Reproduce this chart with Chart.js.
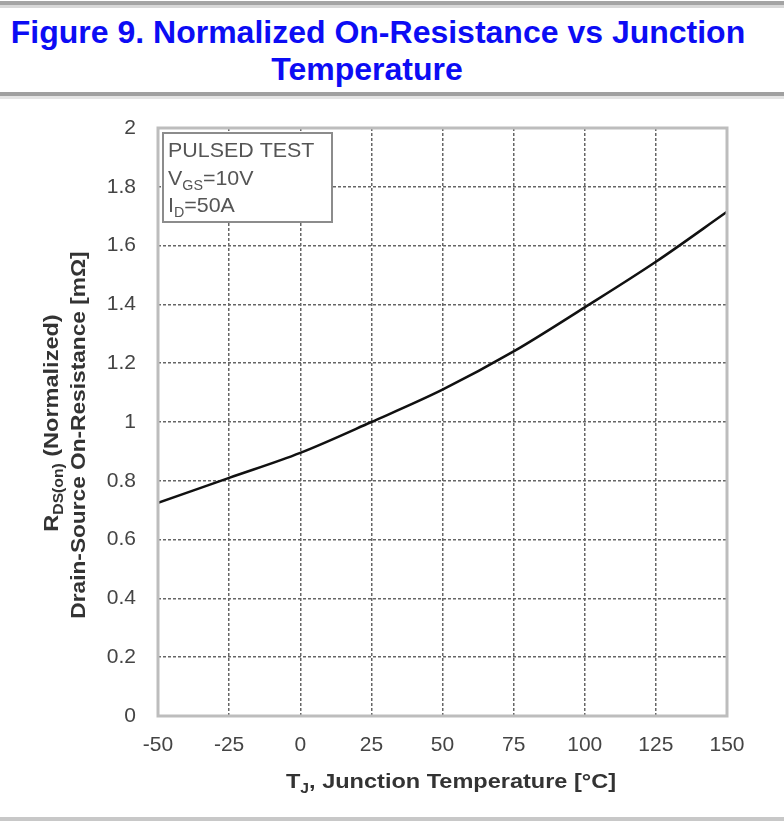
<!DOCTYPE html>
<html>
<head>
<meta charset="utf-8">
<script src="https://cdn.jsdelivr.net/npm/chart.js@4.4.1/dist/chart.umd.min.js"></script>
<style>
  body { margin: 0; background: #fff; width: 784px; height: 821px; position: relative; overflow: hidden; font-family: "Liberation Sans", Arial, sans-serif; }
  #topline { position: absolute; left: 0; top: 1px; width: 784px; height: 4px; background: #a4a4a4; }
  #topline2 { position: absolute; left: 0; top: 5px; width: 784px; height: 3px; background: #d8d8d8; }
  #title { position: absolute; left: 0; top: 14px; width: 756px; text-align: center; color: #0c0cf4; font-weight: bold; font-size: 32px; line-height: 37px; }
  #title span { position: relative; left: -11px; }
  #midline { position: absolute; left: 0; top: 92px; width: 784px; height: 4px; background: #a0a0a0; }
  #midline2 { position: absolute; left: 0; top: 96px; width: 784px; height: 3px; background: #e4e4e4; }
  #botline { position: absolute; left: 0; top: 817px; width: 784px; height: 4px; background: #c8c8c8; }
  #wrap { position: absolute; left: 0; top: 100px; width: 784px; height: 715px; }
</style>
</head>
<body>
<div id="topline"></div>
<div id="topline2"></div>
<div id="title">Figure 9. Normalized On-Resistance vs Junction<br><span>Temperature</span></div>
<div id="midline"></div>
<div id="midline2"></div>
<div id="wrap"><canvas id="chart"></canvas></div>
<div id="botline"></div>
<script>
// data
const tempC = [-50, -25, 0, 25, 50, 75, 100, 125, 150];
const rdsNorm = [0.725, 0.81, 0.895, 1.0, 1.11, 1.24, 1.39, 1.545, 1.715];
const xTicks = [-50, -25, 0, 25, 50, 75, 100, 125, 150];
const yTicks = [0, 0.2, 0.4, 0.6, 0.8, 1, 1.2, 1.4, 1.6, 1.8, 2];

// text pieces: [text, isSubscript]; sx stretches the text sideways
function drawRich(ctx, parts, x, y, size, weight, align, sx) {
  sx = sx || 1;
  const main = weight + ' ' + size + 'px "Liberation Sans", Arial, sans-serif';
  const sub = weight + ' ' + Math.round(size * 0.66) + 'px "Liberation Sans", Arial, sans-serif';
  let total = 0;
  parts.forEach(p => { ctx.font = p[1] ? sub : main; total += ctx.measureText(p[0]).width; });
  ctx.save();
  ctx.translate(x, y);
  ctx.scale(sx, 1);
  let cx = align === 'center' ? -total / 2 : 0;
  ctx.textAlign = 'left';
  ctx.textBaseline = 'alphabetic';
  parts.forEach(p => {
    ctx.font = p[1] ? sub : main;
    ctx.fillText(p[0], cx, p[1] ? size * 0.22 : 0);
    cx += ctx.measureText(p[0]).width;
  });
  ctx.restore();
}

const annotations = {
  id: 'annotations',
  afterDatasetsDraw(chart) {
    const ctx = chart.ctx;
    const a = chart.chartArea;
    ctx.save();
    // plot frame
    ctx.strokeStyle = '#bdbdbd';
    ctx.lineWidth = 3;
    ctx.strokeRect(a.left, a.top, a.right - a.left, a.bottom - a.top);

    // condition box
    ctx.fillStyle = '#fff';
    ctx.fillRect(a.left + 5, a.top + 5, 169, 89);
    ctx.strokeStyle = '#8c8c8c';
    ctx.lineWidth = 2;
    ctx.strokeRect(a.left + 5, a.top + 5, 169, 89);
    ctx.fillStyle = '#555';
    drawRich(ctx, [['PULSED TEST', false]], a.left + 10, a.top + 29, 21, 'normal', 'left', 1.02);
    drawRich(ctx, [['V', false], ['GS', true], ['=10V', false]], a.left + 10, a.top + 57, 21, 'normal', 'left', 1.02);
    drawRich(ctx, [['I', false], ['D', true], ['=50A', false]], a.left + 10, a.top + 84, 21, 'normal', 'left', 1.02);

    // axis titles
    ctx.fillStyle = '#333';
    drawRich(ctx, [['T', false], ['J', true], [', Junction Temperature [°C]', false]], 451, a.bottom + 72, 21, 'bold', 'center', 1.12);

    ctx.translate(58, 423 - 100);
    ctx.rotate(-Math.PI / 2);
    drawRich(ctx, [['R', false], ['DS(on)', true], [' (Normalized)', false]], 0, 0, 21, 'bold', 'center', 1.12);
    ctx.rotate(Math.PI / 2);
    ctx.translate(27, 12);
    ctx.rotate(-Math.PI / 2);
    drawRich(ctx, [['Drain-Source On-Resistance [mΩ]', false]], 0, 0, 21, 'bold', 'center', 1.08);
    ctx.restore();
  }
};

new Chart(document.getElementById('chart'), {
  type: 'line',
  data: {
    datasets: [{
      data: tempC.map((t, i) => ({ x: t, y: rdsNorm[i] })),
      borderColor: '#111',
      borderWidth: 2.5,
      pointRadius: 0,
      cubicInterpolationMode: 'monotone',
      fill: false
    }]
  },
  options: {
    responsive: true,
    maintainAspectRatio: false,
    animation: false,
    layout: { padding: { top: 28, right: 57, left: 0, bottom: 0 } },
    plugins: { legend: { display: false }, tooltip: { enabled: false } },
    scales: {
      x: {
        type: 'linear',
        min: -50, max: 150,
        afterBuildTicks: s => { s.ticks = xTicks.map(v => ({ value: v })); },
        afterFit: s => { s.height = 99; s.paddingLeft = 0; s.paddingRight = 0; },
        ticks: { color: '#444', font: { size: 21, family: '"Liberation Sans", Arial' }, padding: 17, maxRotation: 0 },
        grid: { color: '#666', lineWidth: 1.5, drawTicks: false },
        border: { display: false, dash: [3, 2] }
      },
      y: {
        min: 0, max: 2,
        afterBuildTicks: s => { s.ticks = yTicks.map(v => ({ value: v })); },
        afterFit: s => { s.width = 158; s.paddingTop = 0; s.paddingBottom = 0; },
        ticks: { color: '#444', font: { size: 21, family: '"Liberation Sans", Arial' }, padding: 22, callback: v => String(+v.toFixed(1)) },
        grid: { color: '#666', lineWidth: 1.5, drawTicks: false },
        border: { display: false, dash: [3, 2] }
      }
    }
  },
  plugins: [annotations]
});
</script>
</body>
</html>
